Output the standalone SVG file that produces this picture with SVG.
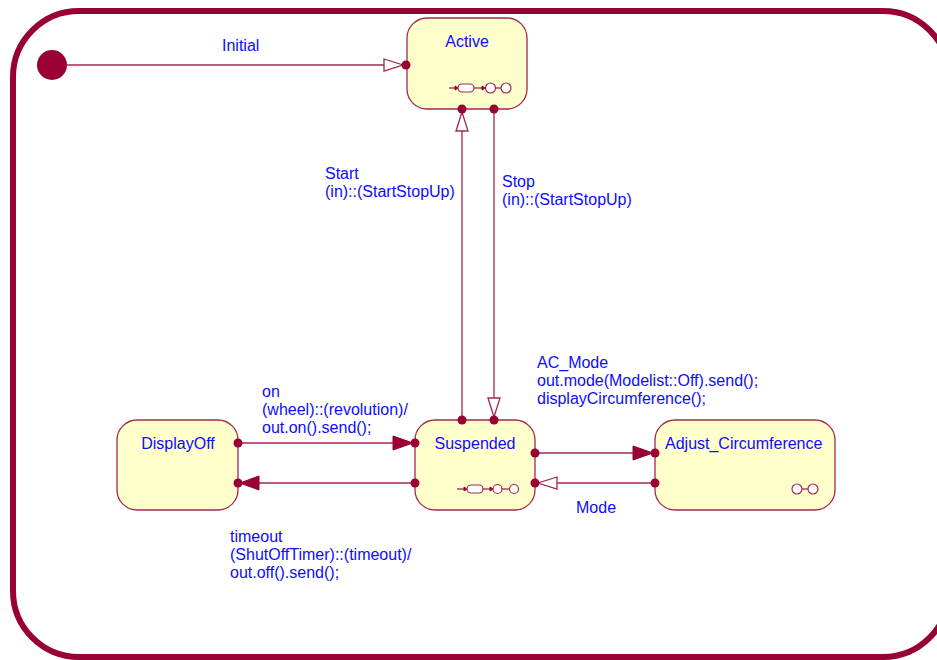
<svg xmlns="http://www.w3.org/2000/svg" width="937" height="660" viewBox="0 0 937 660">
<defs>
<style>
.frame{fill:none;stroke:#990033;stroke-width:6}
.node{fill:#ffffcc;stroke:#a3284f;stroke-width:1.3}
.lbl{font-family:"Liberation Sans",Arial,sans-serif;font-size:16px;fill:#0c0cff}
.name{font-family:"Liberation Sans",Arial,sans-serif;font-size:16px;fill:#0c0cff}
.edge{fill:none;stroke:#a3284f;stroke-width:1.3}
.dot{fill:#990033}
.open{fill:#ffffff;stroke:#a3284f;stroke-width:1.3}
.fill{fill:#990033;stroke:#990033;stroke-width:1}
.ic{fill:#ffffff;stroke:#a3284f;stroke-width:1.2}
</style>
</defs>
<rect width="937" height="660" fill="#ffffff"/>
<rect class="frame" x="13" y="11" width="936" height="646" rx="66" ry="66"/>

<g id="initial">
<circle cx="52" cy="65" r="15" fill="#990033"/>
</g>

<g id="Active">
<rect class="node" x="407" y="18" width="120" height="91" rx="20" ry="20"/>
<text class="name" x="467" y="47" text-anchor="middle">Active</text>
<line class="edge" x1="449" y1="88" x2="455" y2="88"/>
<path class="fill" d="M455,86 L458,88 L455,90 Z"/>
<rect class="ic" x="458" y="84" width="16" height="8" rx="4"/>
<line class="edge" x1="474" y1="88" x2="482" y2="88"/>
<path class="fill" d="M482,86 L485,88 L482,90 Z"/>
<circle class="ic" cx="490.5" cy="88" r="5"/>
<line class="edge" x1="495.5" y1="88" x2="501" y2="88"/>
<circle class="ic" cx="506" cy="88" r="5"/>
</g>

<g id="Suspended">
<rect class="node" x="415" y="420" width="120" height="90" rx="20" ry="20"/>
<text class="name" x="475" y="449" text-anchor="middle">Suspended</text>
<line class="edge" x1="457" y1="489" x2="464" y2="489"/>
<path class="fill" d="M464,487 L467,489 L464,491 Z"/>
<rect class="ic" x="467" y="485" width="16" height="8" rx="4"/>
<line class="edge" x1="483" y1="489" x2="490" y2="489"/>
<path class="fill" d="M490,487 L493,489 L490,491 Z"/>
<circle class="ic" cx="497.5" cy="489" r="4.5"/>
<line class="edge" x1="502" y1="489" x2="509.5" y2="489"/>
<circle class="ic" cx="514" cy="489" r="4.5"/>
</g>

<g id="DisplayOff">
<rect class="node" x="117" y="420" width="121" height="90" rx="20" ry="20"/>
<text class="name" x="178" y="449" text-anchor="middle">DisplayOff</text>
</g>

<g id="Adjust_Circumference">
<rect class="node" x="655" y="420" width="180" height="90" rx="20" ry="20"/>
<text class="name" x="665" y="449">Adjust_Circumference</text>
<circle class="ic" cx="797" cy="489" r="5"/>
<line class="edge" x1="802" y1="489" x2="808" y2="489"/>
<circle class="ic" cx="813" cy="489" r="5"/>
</g>

<g id="connectors">
<!-- Initial -->
<line class="edge" x1="67" y1="65" x2="384" y2="65"/>
<path class="open" d="M384,59 L403,65 L384,71 Z"/>
<circle class="dot" cx="406" cy="65" r="4.5"/>
<text class="lbl" x="222" y="51">Initial</text>

<!-- Start: Suspended -> Active -->
<line class="edge" x1="462" y1="420" x2="462" y2="131"/>
<path class="open" d="M456,131 L462,112 L468,131 Z"/>
<circle class="dot" cx="462" cy="109" r="4.5"/>
<circle class="dot" cx="462" cy="420" r="4.5"/>
<text class="lbl" x="325" y="179">Start</text>
<text class="lbl" x="325" y="197">(in)::(StartStopUp)</text>

<!-- Stop: Active -> Suspended -->
<line class="edge" x1="494" y1="109" x2="494" y2="398"/>
<path class="open" d="M488,398 L494,417 L500,398 Z"/>
<circle class="dot" cx="494" cy="109" r="4.5"/>
<circle class="dot" cx="494" cy="420" r="4.5"/>
<text class="lbl" x="502" y="187">Stop</text>
<text class="lbl" x="502" y="205">(in)::(StartStopUp)</text>

<!-- on: DisplayOff -> Suspended -->
<line class="edge" x1="238" y1="443" x2="394" y2="443"/>
<path class="fill" d="M393,436 L413,443 L393,450 Z"/>
<circle class="dot" cx="238" cy="443" r="4.5"/>
<circle class="dot" cx="415" cy="443" r="4.5"/>
<text class="lbl" x="262" y="397">on</text>
<text class="lbl" x="262" y="415">(wheel)::(revolution)/</text>
<text class="lbl" x="262" y="433">out.on().send();</text>

<!-- timeout: Suspended -> DisplayOff -->
<line class="edge" x1="415" y1="483" x2="258" y2="483"/>
<path class="fill" d="M259,476 L240,483 L259,490 Z"/>
<circle class="dot" cx="238" cy="483" r="4.5"/>
<circle class="dot" cx="415" cy="483" r="4.5"/>
<text class="lbl" x="230" y="542">timeout</text>
<text class="lbl" x="230" y="560">(ShutOffTimer)::(timeout)/</text>
<text class="lbl" x="230" y="578">out.off().send();</text>

<!-- AC_Mode: Suspended -> Adjust_Circumference -->
<line class="edge" x1="535" y1="453" x2="634" y2="453"/>
<path class="fill" d="M633,446 L653,453 L633,460 Z"/>
<circle class="dot" cx="535" cy="453" r="4.5"/>
<circle class="dot" cx="655" cy="453" r="4.5"/>
<text class="lbl" x="537" y="368">AC_Mode</text>
<text class="lbl" x="537" y="386">out.mode(Modelist::Off).send();</text>
<text class="lbl" x="537" y="404">displayCircumference();</text>

<!-- Mode: Adjust_Circumference -> Suspended -->
<line class="edge" x1="655" y1="483" x2="557" y2="483"/>
<path class="open" d="M557,477 L538,483 L557,489 Z"/>
<circle class="dot" cx="535" cy="483" r="4.5"/>
<circle class="dot" cx="655" cy="483" r="4.5"/>
<text class="lbl" x="576" y="513">Mode</text>
</g>
</svg>
